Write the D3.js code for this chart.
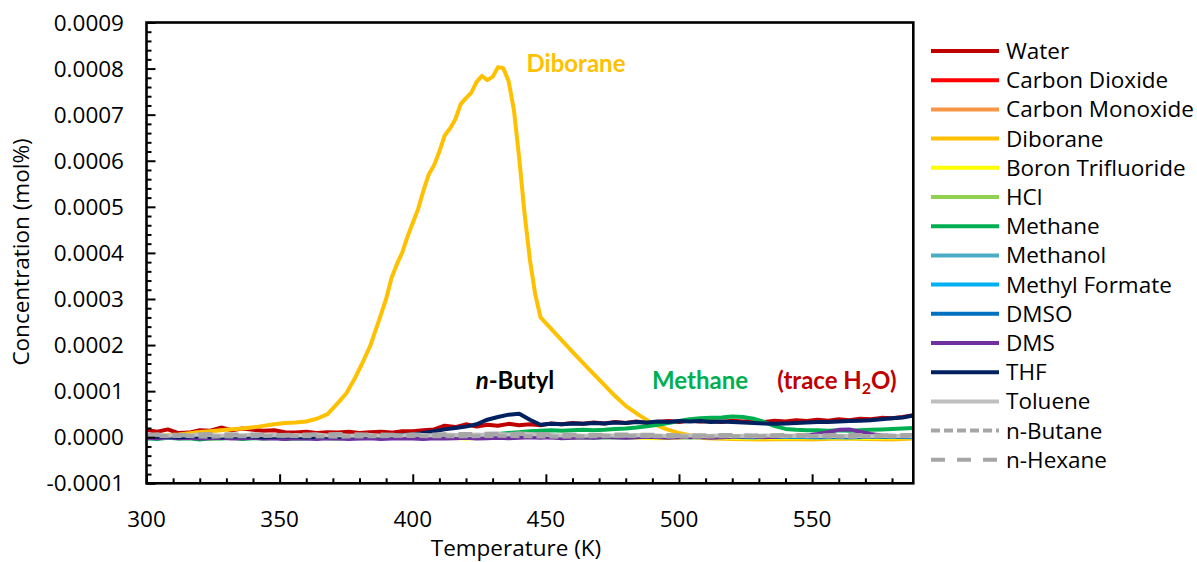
<!DOCTYPE html>
<html>
<head>
<meta charset="utf-8">
<script src="https://cdn.jsdelivr.net/npm/d3@7"></script>
<style>
  html, body { margin: 0; padding: 0; background: #fff; }
  svg { display: block; }
</style>
</head>
<body>
<svg id="chart" width="1197" height="562"></svg>
<script>
// ---- Data (concentrations in mol%) ----
const tempFine = [300,304,308,312,316,320,324,328,332,336,340,344,348,352,356,360,364,368,372,376,380,384,388,392,396,400,404,408,412,416,420,424,428,432,436,440,444,448,452,456,460,464,468,472,476,480,484,488,492,496,500,504,508,512,516,520,524,528,532,536,540,544,548,552,556,560,564,568,572,576,580,584,588];
const tempCoarse = [300,312,324,336,348,360,372,384,396,408,420,432,444,456,468,480,492,504,516,528,540,552,564,576,588];
const tempDiborane = [300,306,312,318,324,330,336,342,348,352,356,360,364,368,372,375,378,381,384,387,390,392,394,396,398,400,402,404,406,408,410,412,414,416,418,420,422,424,426,428,430,432,434,436,438,440,442,444,446,448,452,456,460,465,470,475,480,485,490,495,500,505,510,520,530,540,550,560,570,580,588];

const water = [1.6e-5,1.2e-5,1.7e-5,0.9e-5,1.0e-5,1.5e-5,1.4e-5,2.1e-5,1.5e-5,1.9e-5,
  1.6e-5,1.4e-5,1.5e-5,1.1e-5,1.0e-5,1.2e-5,0.9e-5,1.1e-5,1.0e-5,1.2e-5,
  0.9e-5,1.1e-5,1.2e-5,1.0e-5,1.3e-5,1.3e-5,1.5e-5,1.7e-5,2.5e-5,2.2e-5,
  2.8e-5,2.3e-5,2.7e-5,2.5e-5,2.9e-5,2.6e-5,2.8e-5,2.6e-5,3.0e-5,2.8e-5,
  3.1e-5,2.9e-5,3.2e-5,3.0e-5,3.3e-5,3.1e-5,3.4e-5,3.1e-5,3.3e-5,3.5e-5,
  3.3e-5,3.6e-5,3.4e-5,3.5e-5,3.3e-5,3.6e-5,3.4e-5,3.5e-5,3.3e-5,3.6e-5,
  3.4e-5,3.7e-5,3.5e-5,3.8e-5,3.6e-5,3.9e-5,3.7e-5,4.0e-5,3.9e-5,4.2e-5,
  4.1e-5,4.4e-5,4.8e-5];
const carbonDioxide = [0.1e-5,0.0,0.2e-5,0.1e-5,0.0,0.2e-5,0.1e-5,0.0,0.1e-5,0.2e-5,0.1e-5,0.2e-5,0.1e-5,0.0,0.2e-5,0.1e-5,0.2e-5,0.1e-5,0.0,0.1e-5,0.2e-5,0.1e-5,0.0,0.1e-5,0.2e-5];
const carbonMonoxide = [0.1e-5,0.0,0.2e-5,0.1e-5,0.0,0.1e-5,0.2e-5,0.0,0.1e-5,0.2e-5,0.1e-5,0.0,0.1e-5,0.2e-5,0.1e-5,0.0,0.1e-5,0.2e-5,0.1e-5,0.0,0.1e-5,0.2e-5,0.1e-5,0.1e-5,0.2e-5];
const diborane = [0.2e-5,0.3e-5,0.6e-5,1.0e-5,1.3e-5,1.6e-5,1.9e-5,2.3e-5,2.8e-5,3.1e-5,
  3.2e-5,3.4e-5,4.0e-5,5.0e-5,7.5e-5,9.5e-5,12.5e-5,16.0e-5,19.8e-5,24.8e-5,
  30.0e-5,34.5e-5,37.5e-5,40.0e-5,43.5e-5,46.5e-5,49.5e-5,53.5e-5,57.0e-5,59.0e-5,
  62.0e-5,65.5e-5,67.0e-5,69.0e-5,72.3e-5,73.6e-5,74.8e-5,77.1e-5,78.4e-5,77.5e-5,
  78.2e-5,80.3e-5,80.1e-5,77.3e-5,71.0e-5,60.5e-5,48.5e-5,38.5e-5,31.0e-5,26.0e-5,
  23.5e-5,21.0e-5,18.5e-5,15.5e-5,12.5e-5,9.5e-5,6.8e-5,4.8e-5,3.0e-5,1.8e-5,
  0.9e-5,0.3e-5,-0.2e-5,-0.4e-5,-0.5e-5,-0.4e-5,-0.5e-5,-0.3e-5,-0.4e-5,-0.5e-5,-0.3e-5];
const boronTrifluoride = [0.0,0.1e-5,-0.3e-5,0.1e-5,0.0,0.1e-5,-0.2e-5,0.1e-5,0.0,0.1e-5,-0.3e-5,0.0,0.1e-5,0.0,-0.1e-5,0.0,-0.2e-5,0.0,-0.1e-5,-0.2e-5,-0.1e-5,0.0,-0.2e-5,-0.1e-5,0.0];
const hcl = [0.1e-5,0.2e-5,0.0,0.1e-5,0.2e-5,0.1e-5,0.0,0.1e-5,0.2e-5,0.1e-5,0.1e-5,0.2e-5,0.1e-5,0.0,0.1e-5,0.2e-5,0.1e-5,0.1e-5,0.0,0.1e-5,0.2e-5,0.1e-5,0.0,0.1e-5,0.1e-5];
const methane = [-0.2e-5,-0.4e-5,-0.1e-5,-0.3e-5,-0.2e-5,-0.5e-5,-0.2e-5,-0.3e-5,-0.1e-5,-0.4e-5,
  -0.2e-5,-0.3e-5,-0.1e-5,-0.4e-5,-0.2e-5,-0.3e-5,-0.1e-5,-0.2e-5,-0.3e-5,-0.1e-5,
  -0.2e-5,-0.1e-5,0.0,-0.1e-5,0.0,0.1e-5,0.0,0.2e-5,0.1e-5,0.3e-5,
  0.2e-5,0.4e-5,0.5e-5,0.7e-5,0.9e-5,1.1e-5,1.3e-5,1.4e-5,1.5e-5,1.4e-5,
  1.5e-5,1.6e-5,1.5e-5,1.6e-5,1.8e-5,1.9e-5,2.1e-5,2.4e-5,2.7e-5,3.1e-5,
  3.5e-5,3.9e-5,4.1e-5,4.2e-5,4.3e-5,4.5e-5,4.4e-5,4.0e-5,3.3e-5,2.4e-5,
  1.8e-5,1.6e-5,1.5e-5,1.5e-5,1.4e-5,1.5e-5,1.4e-5,1.5e-5,1.6e-5,1.7e-5,
  1.8e-5,1.9e-5,2.0e-5];
const methanol = [-0.3e-5,0.0,0.1e-5,0.0,-0.2e-5,0.1e-5,0.0,0.1e-5,-0.1e-5,0.0,0.1e-5,0.0,0.1e-5,0.0,-0.1e-5,0.0,0.1e-5,0.0,0.1e-5,0.0,0.1e-5,0.0,0.0,0.1e-5,0.0];
const methylFormate = [0.0,0.1e-5,0.0,0.1e-5,0.2e-5,0.0,0.1e-5,0.0,0.1e-5,0.2e-5,0.1e-5,0.0,0.1e-5,0.2e-5,0.1e-5,0.0,0.1e-5,0.2e-5,0.1e-5,0.0,0.1e-5,0.0,0.1e-5,0.2e-5,0.1e-5];
const dmso = [0.1e-5,0.0,0.1e-5,0.2e-5,0.1e-5,0.0,0.1e-5,0.2e-5,0.1e-5,0.0,0.1e-5,0.2e-5,0.1e-5,0.0,0.1e-5,0.2e-5,0.1e-5,0.0,0.1e-5,0.1e-5,0.2e-5,0.1e-5,0.0,0.1e-5,0.1e-5];
const dms = [-0.1e-5,-0.2e-5,0.0,-0.2e-5,-0.1e-5,-0.3e-5,-0.2e-5,-0.1e-5,-0.3e-5,-0.2e-5,
  -0.1e-5,-0.3e-5,-0.2e-5,-0.4e-5,-0.2e-5,-0.3e-5,-0.4e-5,-0.2e-5,-0.3e-5,-0.4e-5,
  -0.3e-5,-0.2e-5,-0.4e-5,-0.3e-5,-0.2e-5,-0.3e-5,-0.4e-5,-0.2e-5,-0.3e-5,-0.2e-5,
  -0.1e-5,-0.3e-5,-0.2e-5,-0.1e-5,-0.2e-5,-0.1e-5,0.0,-0.1e-5,0.0,-0.2e-5,
  -0.1e-5,0.0,-0.1e-5,0.1e-5,0.0,-0.1e-5,0.0,0.1e-5,0.0,-0.1e-5,
  0.0,0.1e-5,0.0,-0.1e-5,0.0,0.1e-5,0.2e-5,0.1e-5,0.0,0.1e-5,
  0.2e-5,0.3e-5,0.4e-5,0.7e-5,1.1e-5,1.6e-5,1.7e-5,1.2e-5,0.7e-5,0.4e-5,
  0.3e-5,0.2e-5,0.3e-5];
const thf = [0.2e-5,0.1e-5,0.2e-5,0.0,0.1e-5,0.2e-5,0.1e-5,0.0,0.1e-5,0.2e-5,
  0.1e-5,0.0,0.1e-5,0.2e-5,0.1e-5,0.0,0.1e-5,0.2e-5,0.1e-5,0.2e-5,
  0.2e-5,0.3e-5,0.2e-5,0.4e-5,0.5e-5,0.6e-5,0.9e-5,1.3e-5,1.7e-5,2.0e-5,
  2.3e-5,2.8e-5,3.8e-5,4.4e-5,4.9e-5,5.1e-5,3.8e-5,2.7e-5,2.9e-5,2.8e-5,
  3.0e-5,2.9e-5,3.1e-5,3.0e-5,3.2e-5,3.1e-5,3.3e-5,3.2e-5,3.4e-5,3.3e-5,
  3.5e-5,3.4e-5,3.5e-5,3.3e-5,3.4e-5,3.3e-5,3.2e-5,3.1e-5,3.0e-5,2.9e-5,
  3.0e-5,3.1e-5,3.2e-5,3.3e-5,3.3e-5,3.4e-5,3.5e-5,3.6e-5,3.7e-5,3.9e-5,
  4.1e-5,4.3e-5,4.7e-5];
const toluene = [0.4e-5,0.6e-5,0.3e-5,0.5e-5,0.4e-5,0.6e-5,0.5e-5,0.3e-5,0.5e-5,0.4e-5,
  0.6e-5,0.4e-5,0.5e-5,0.3e-5,0.5e-5,0.4e-5,0.6e-5,0.4e-5,0.5e-5,0.3e-5,
  0.4e-5,0.5e-5,0.3e-5,0.5e-5,0.4e-5,0.6e-5,0.5e-5,0.4e-5,0.6e-5,0.5e-5,
  0.4e-5,0.6e-5,0.5e-5,0.7e-5,0.6e-5,0.8e-5,0.7e-5,0.6e-5,0.5e-5,0.4e-5,
  0.5e-5,0.3e-5,0.4e-5,0.5e-5,0.3e-5,0.4e-5,0.5e-5,0.3e-5,0.4e-5,0.2e-5,
  0.3e-5,0.4e-5,0.2e-5,0.3e-5,0.4e-5,0.2e-5,0.3e-5,0.2e-5,0.4e-5,0.3e-5,
  0.2e-5,0.3e-5,0.2e-5,0.3e-5,0.2e-5,0.3e-5,0.2e-5,0.3e-5,0.2e-5,0.3e-5,
  0.2e-5,0.3e-5,0.2e-5];
const nButane = [0.2e-5,0.3e-5,0.1e-5,0.2e-5,0.3e-5,0.2e-5,0.1e-5,0.2e-5,0.3e-5,0.2e-5,0.2e-5,0.3e-5,0.2e-5,0.1e-5,0.2e-5,0.3e-5,0.2e-5,0.1e-5,0.2e-5,0.2e-5,0.3e-5,0.2e-5,0.1e-5,0.2e-5,0.2e-5];
const nHexane = [0.6e-5,0.5e-5,0.7e-5,0.6e-5,0.5e-5,0.6e-5,0.7e-5,0.6e-5,0.5e-5,0.6e-5,0.7e-5,0.8e-5,0.7e-5,0.6e-5,0.5e-5,0.6e-5,0.5e-5,0.4e-5,0.5e-5,0.4e-5,0.5e-5,0.4e-5,0.5e-5,0.4e-5,0.5e-5];

const xTicks = [300,350,400,450,500,550];
const yTicks = [-0.0001,0,0.0001,0.0002,0.0003,0.0004,0.0005,0.0006,0.0007,0.0008,0.0009];
const xDomain = [300, 588];
const yDomain = [-0.0001, 0.0009];

const series = [
  {name: "Water",             color: "#C00000", t: tempFine,     v: water},
  {name: "Carbon Dioxide",    color: "#FF0000", t: tempCoarse,   v: carbonDioxide},
  {name: "Carbon Monoxide",   color: "#F79646", t: tempCoarse,   v: carbonMonoxide},
  {name: "Diborane",          color: "#FFC000", t: tempDiborane, v: diborane},
  {name: "Boron Trifluoride", color: "#FFFF00", t: tempCoarse,   v: boronTrifluoride},
  {name: "HCl",               color: "#92D050", t: tempCoarse,   v: hcl},
  {name: "Methane",           color: "#00B050", t: tempFine,     v: methane},
  {name: "Methanol",          color: "#4BACC6", t: tempCoarse,   v: methanol},
  {name: "Methyl Formate",    color: "#00B0F0", t: tempCoarse,   v: methylFormate},
  {name: "DMSO",              color: "#0070C0", t: tempCoarse,   v: dmso},
  {name: "DMS",               color: "#7030A0", t: tempFine,     v: dms},
  {name: "THF",               color: "#002060", t: tempFine,     v: thf},
  {name: "Toluene",           color: "#BFBFBF", t: tempFine,     v: toluene},
  {name: "n-Butane",          color: "#A6A6A6", t: tempCoarse,   v: nButane, dash: "9,4"},
  {name: "n-Hexane",          color: "#A6A6A6", t: tempCoarse,   v: nHexane, dash: "14,12"}
];

// ---- Layout ----
const FONT = "'Open Sans', 'Noto Sans', sans-serif";   // axis text and legend
const FONT_NOTE = "Lato, 'Open Sans', sans-serif";     // bold in-plot annotations
const FS = 22.5;
const plot = {left: 146.5, right: 913.3, top: 22.5, bottom: 483.3};

const svg = d3.select("#chart");
const x = d3.scaleLinear().domain(xDomain).range([plot.left, plot.right]);
const y = d3.scaleLinear().domain(yDomain).range([plot.bottom, plot.top]);

function addText(parent, str, px, py, opts = {}) {
  const t = parent.append("text")
    .attr("transform", `translate(${px},${py})` + (opts.rotate ? ` rotate(${opts.rotate})` : ""))
    .attr("text-anchor", opts.anchor || "start")
    .attr("font-family", opts.family || FONT)
    .attr("font-size", opts.size || FS)
    .attr("font-weight", opts.weight || "normal")
    .attr("fill", opts.fill || "#000");
  if (str !== null) t.text(str);
  return t;
}

// clip region for the data lines
svg.append("defs").append("clipPath").attr("id", "plot-clip")
  .append("rect")
  .attr("x", plot.left).attr("y", plot.top)
  .attr("width", plot.right - plot.left).attr("height", plot.bottom - plot.top);

// ---- Series lines ----
const line = d3.line()
  .x(d => x(d[0]))
  .y(d => y(d[1]));

const lines = svg.append("g").attr("clip-path", "url(#plot-clip)");
series.forEach(s => {
  lines.append("path")
    .datum(s.t.map((t, i) => [t, s.v[i]]))
    .attr("d", line)
    .attr("fill", "none")
    .attr("stroke", s.color)
    .attr("stroke-width", 4)
    .attr("stroke-linejoin", "round")
    .attr("stroke-dasharray", s.dash || null);
});

// ---- Axes: inward ticks, frame ----
const minorX = d3.range(310, 588, 10).filter(v => v % 50 !== 0);
const minorY = d3.range(-5, 45).map(i => i * 0.00002).filter((v, i) => (i + 5) % 5 !== 0);

function tickGroup(axis) {
  return g => {
    g.call(axis);
    g.select(".domain").remove();
    g.selectAll(".tick line").attr("stroke", "#000").attr("stroke-width", 2);
    g.selectAll(".tick text").remove();
  };
}
svg.append("g").attr("transform", `translate(0,${plot.bottom})`)
  .call(tickGroup(d3.axisBottom(x).tickValues(xTicks).tickSize(-9)));
svg.append("g").attr("transform", `translate(0,${plot.bottom})`)
  .call(tickGroup(d3.axisBottom(x).tickValues(minorX).tickSize(-5)));
svg.append("g").attr("transform", `translate(${plot.left},0)`)
  .call(tickGroup(d3.axisLeft(y).tickValues(yTicks).tickSize(-9)));
svg.append("g").attr("transform", `translate(${plot.left},0)`)
  .call(tickGroup(d3.axisLeft(y).tickValues(minorY).tickSize(-5)));

svg.append("rect")
  .attr("x", plot.left).attr("y", plot.top)
  .attr("width", plot.right - plot.left).attr("height", plot.bottom - plot.top)
  .attr("fill", "none").attr("stroke", "#000").attr("stroke-width", 2.6);

// tick labels
const labels = svg.append("g");
xTicks.forEach(v => addText(labels, String(v), x(v), 527, {anchor: "middle"}));
yTicks.forEach(v => addText(labels, v.toFixed(4), 124, y(v) + 8, {anchor: "end"}));

// axis titles
addText(labels, "Temperature (K)", 516, 556, {anchor: "middle"});
addText(labels, "Concentration (mol%)", 29, 252, {anchor: "middle", rotate: -90});

// ---- Annotations ----
const notes = svg.append("g");
const noteOpts = {anchor: "middle", weight: "bold", family: FONT_NOTE, size: 24};
addText(notes, "Diborane", 576, 72, {...noteOpts, fill: "#FFC000"});
const butyl = addText(notes, null, 515, 389, noteOpts);
butyl.append("tspan").attr("font-style", "italic").text("n");
butyl.append("tspan").text("-Butyl");
addText(notes, "Methane", 700, 389, {...noteOpts, fill: "#00B050"});
const trace = addText(notes, null, 837, 389, {...noteOpts, fill: "#C00000"});
trace.append("tspan").text("(trace H");
trace.append("tspan").attr("font-size", 16).attr("dy", 5).text("2");
trace.append("tspan").attr("dy", -5).text("O)");

// ---- Legend ----
const legend = svg.append("g");
series.forEach((s, i) => {
  const ly = 51 + i * 29.2;
  legend.append("line")
    .attr("x1", 931).attr("x2", 999).attr("y1", ly).attr("y2", ly)
    .attr("stroke", s.color).attr("stroke-width", 4)
    .attr("stroke-dasharray", s.dash || null);
  addText(legend, s.name, 1006, ly + 8);
});
</script>
</body>
</html>
